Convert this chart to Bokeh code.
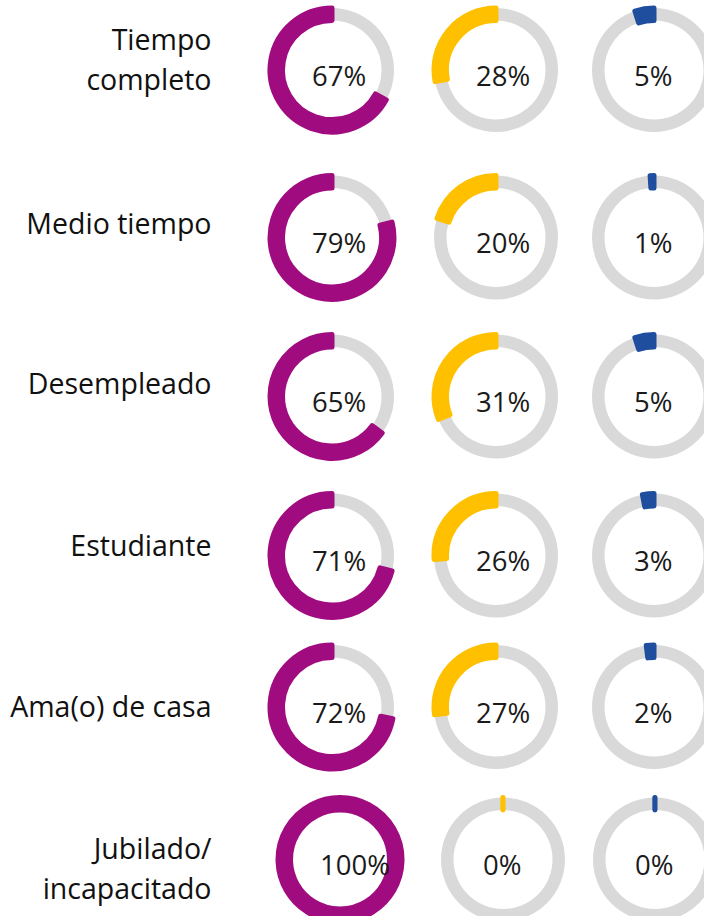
import math
from bokeh.plotting import figure
from bokeh.models import ColumnDataSource, Range1d
from bokeh.embed import file_html
from bokeh.resources import INLINE
from bokeh.core.properties import value

# ---------------- data ----------------
categories = ["Tiempo\ncompleto", "Medio tiempo", "Desempleado", "Estudiante",
              "Ama(o) de casa", "Jubilado/\nincapacitado"]
series_1 = [67, 79, 65, 71, 72, 100]
series_2 = [28, 20, 31, 26, 27, 0]
series_3 = [5, 1, 5, 3, 2, 0]
series_colors = ["#A00C80", "#FFC000", "#1F4E9E"]
track_color = "#D9D9D9"

# ---------------- layout (pixels) ----------------
W, H = 704, 916
row_y = [69.5, 237, 396, 555, 706.5, 859]
col_x = [[331.5, 495.5, 653.5]] * 5 + [[339.5, 502.5, 654.5]]
label_baseline = [48, 232, 392, 554, 715, 857]
label_right = 211
line_gap = 40
R_IN, R_OUT = 49.5, 62
FONT = "Open Sans"
TEXT_SHIFT = 10  # compensation for baseline placement

p = figure(width=W, height=H, x_range=Range1d(0, W), y_range=Range1d(-H, 0),
           output_backend="svg", toolbar_location=None, x_axis_location=None, y_axis_location=None,
           min_border=0, min_border_left=0, min_border_right=0, min_border_top=0, min_border_bottom=0)
p.outline_line_color = None
p.grid.visible = False
p.background_fill_color = "white"

series = [series_1, series_2, series_3]

cx, cy, cols, starts, ends, txt, tx, ty = [], [], [], [], [], [], [], []
for r in range(len(categories)):
    for c in range(3):
        v = series[c][r]
        x = col_x[r][c]
        y = -row_y[r]
        cx.append(x)
        cy.append(y)
        frac = min(max(v / 100.0, 0.0005), 0.9999)
        starts.append(math.pi / 2)
        ends.append(math.pi / 2 + frac * 2 * math.pi)
        cols.append(series_colors[c])
        txt.append(f"{v}%")
        tx.append(x - 20)
        ty.append(y - 15 + TEXT_SHIFT)

src = ColumnDataSource(dict(x=cx, y=cy, start=starts, end=ends, color=cols, text=txt, tx=tx, ty=ty))

p.annulus(x="x", y="y", inner_radius=R_IN, outer_radius=R_OUT, source=src,
          fill_color=track_color, line_color=None)
p.annular_wedge(x="x", y="y", inner_radius=R_IN, outer_radius=R_OUT, start_angle="start",
                end_angle="end", direction="anticlock", source=src,
                fill_color="color", line_color="color", line_width=5, line_join="round")
p.text(x="tx", y="ty", text="text", source=src, text_align="left", text_baseline="alphabetic",
       text_font=value(FONT), text_font_size="27.5px", text_color="#1A1A1A")

lx, ly, lt = [], [], []
for r, cat in enumerate(categories):
    for i, line in enumerate(cat.split("\n")):
        lx.append(label_right)
        ly.append(-(label_baseline[r] + i * line_gap) + TEXT_SHIFT)
        lt.append(line)
p.text(x=lx, y=ly, text=lt, text_align="right", text_baseline="alphabetic",
       text_font=value(FONT), text_font_size="28.5px", text_color="#111111")

open("out.html", "w").write(file_html(p, INLINE))
